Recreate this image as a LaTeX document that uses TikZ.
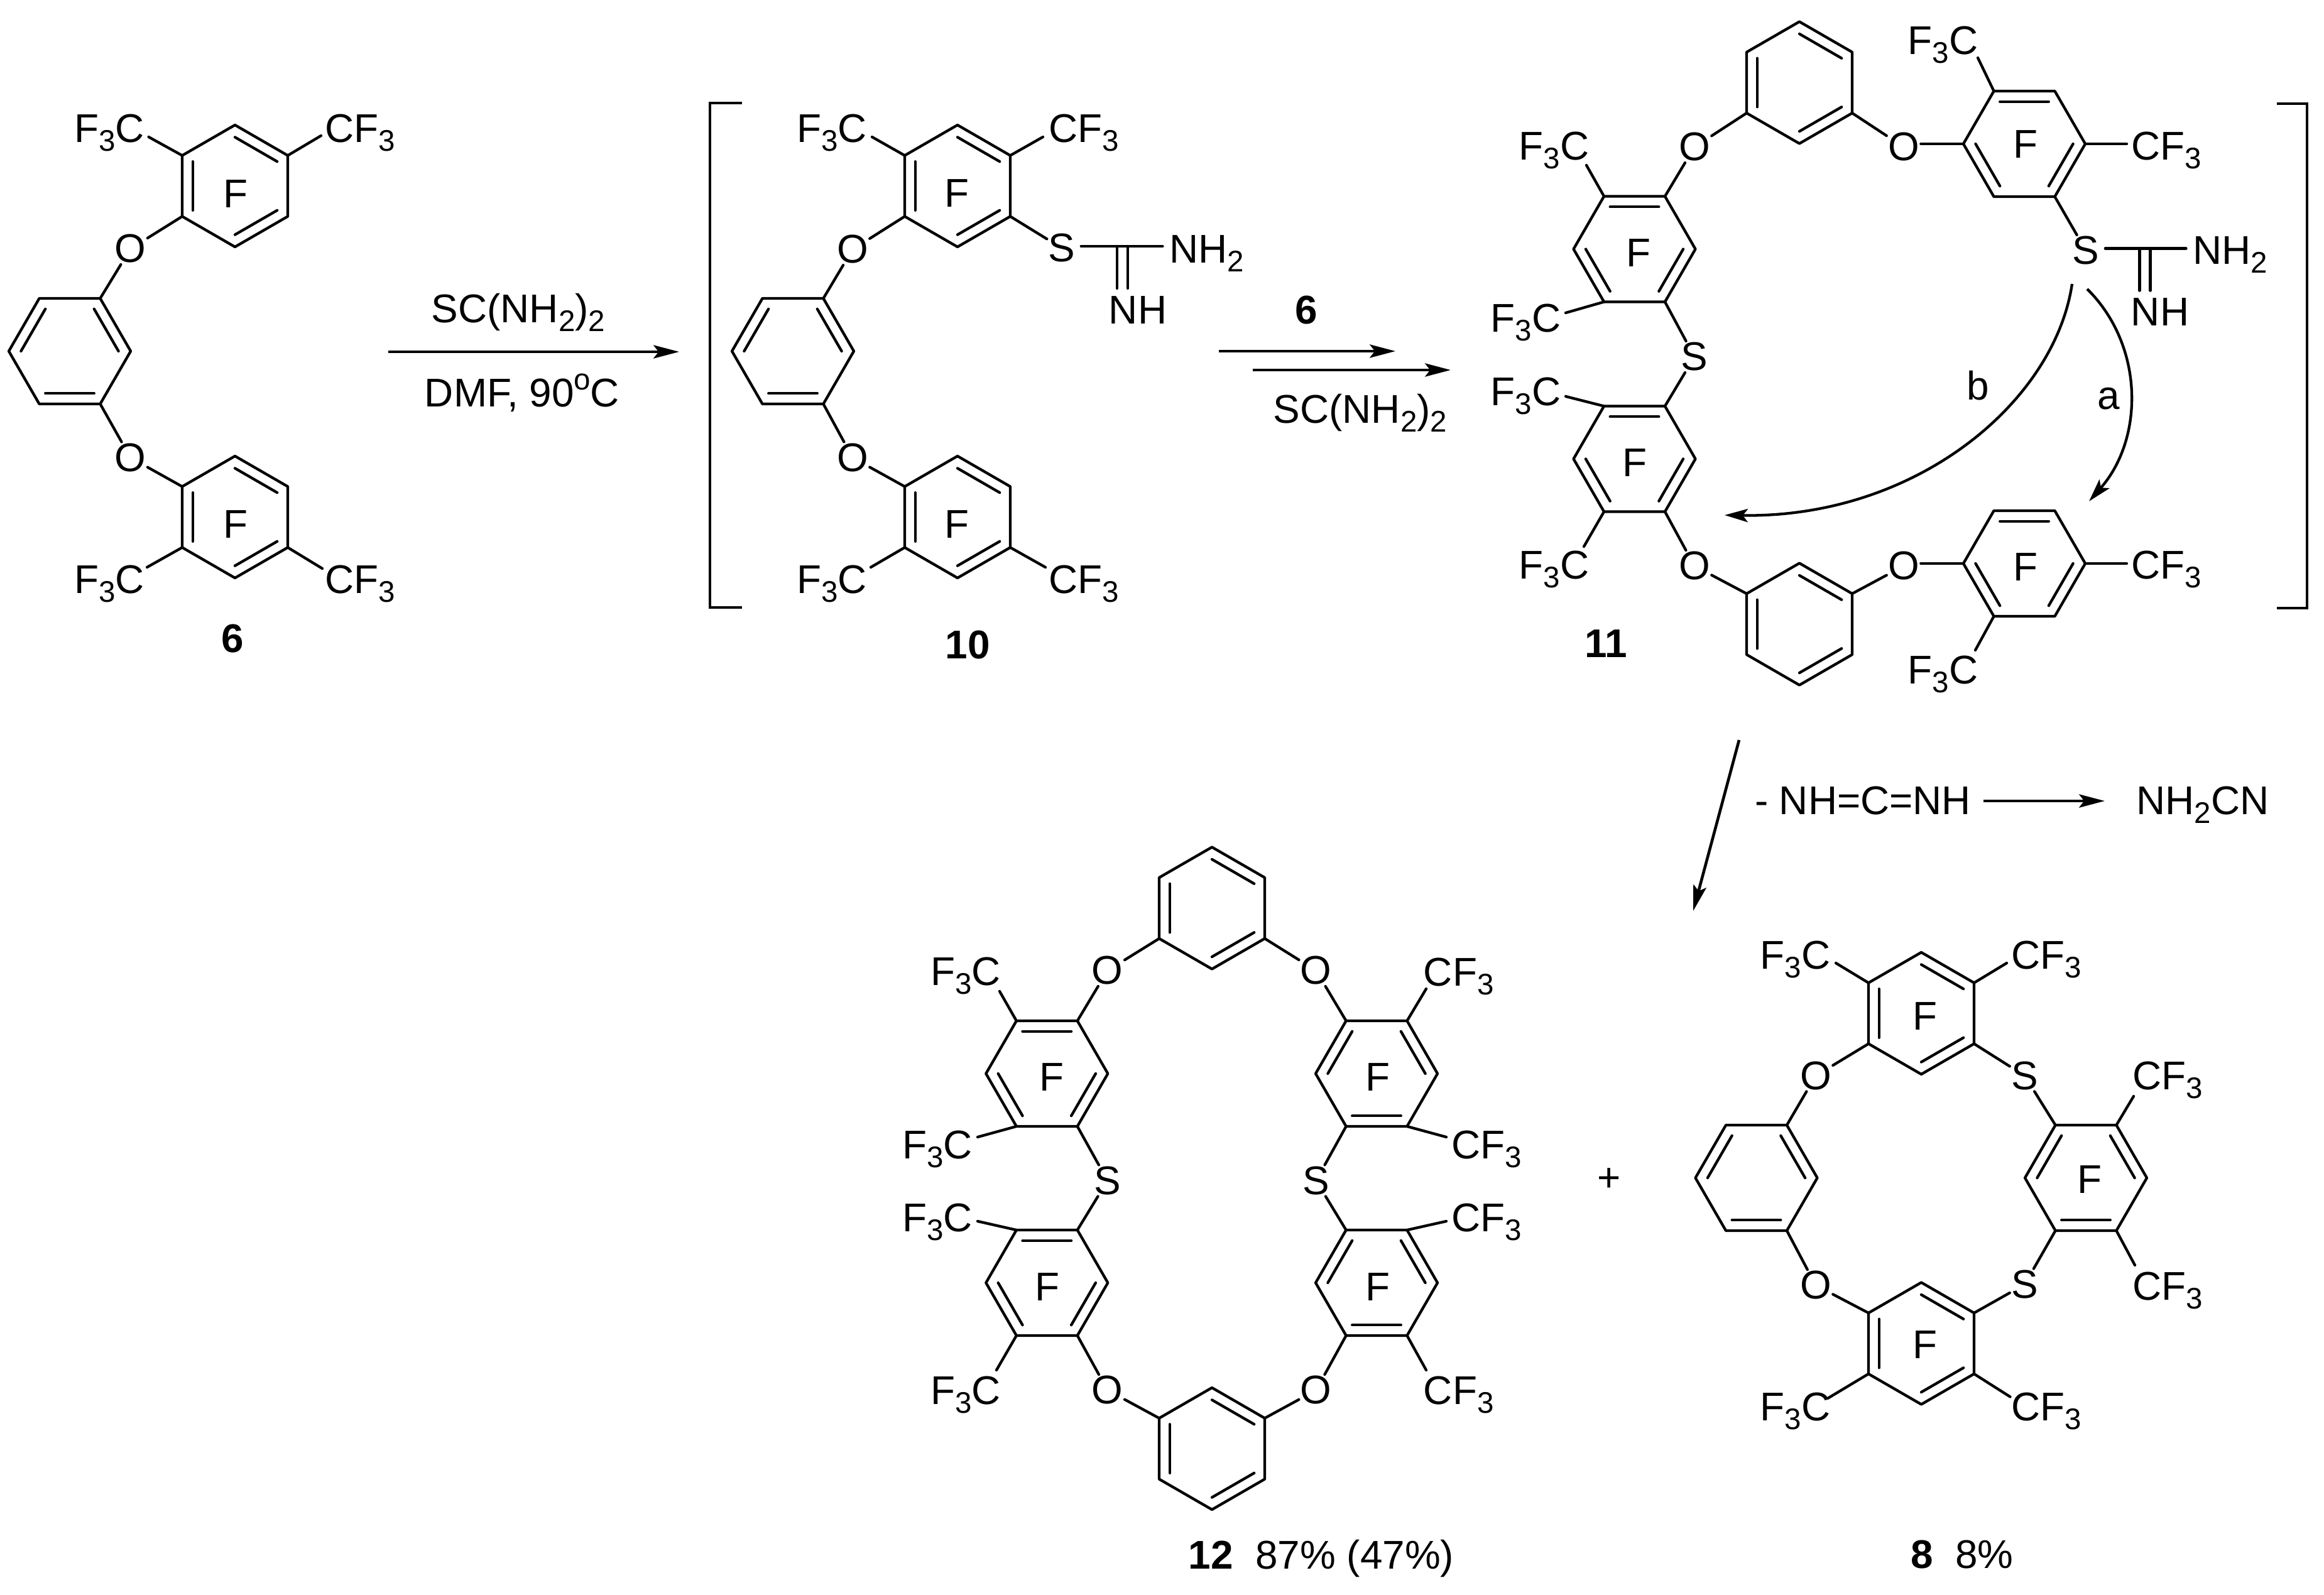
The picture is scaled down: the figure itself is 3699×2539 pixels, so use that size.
\documentclass[tikz,border=0pt]{standalone}
\usepackage{fontspec}
\setmainfont{Liberation Sans}
\usetikzlibrary{calc,arrows.meta}
\def\rR{97}
\newcommand{\sbs}[1]{\raisebox{-4pt}{\fontsize{13.5}{14}\selectfont #1}}
\newcommand{\sps}[1]{\raisebox{7.6pt}{\fontsize{13.5}{14}\selectfont #1}}
\newcommand{\ftc}{F\sbs{3}C}
\newcommand{\cft}{CF\sbs{3}}
\tikzset{
  bond/.style={draw=black, line width=1.22pt, line cap=round, line join=round},
  atom/.style={inner sep=0.5pt, font=\fontsize{18.15}{20}\selectfont},
  lab/.style={atom, anchor=base},
  num/.style={lab, font=\fontsize{18.15}{20}\selectfont\bfseries},
  rxn/.style={draw=black, line width=1.3pt, -{Stealth[length=11.6pt,width=6pt,inset=2.3pt]}},
  curv/.style={draw=black, line width=1.22pt, -{Stealth[length=10.5pt,width=6pt,inset=2.3pt]}}
}
% ring: name, centre, start angle, inner lines
\newcommand{\ringat}[4]{%
  \coordinate (#1) at (#2);
  \foreach \k in {0,...,5} \coordinate (#1-\k) at ($(#1)+(#3+60*\k:\rR)$);
  \draw[bond] (#1-0) -- (#1-1) -- (#1-2) -- (#1-3) -- (#1-4) -- (#1-5) -- cycle;
  \foreach \a/\b in {#4} \draw[bond] ($(#1)!0.8!(#1-\a)$) -- ($(#1)!0.8!(#1-\b)$);
}
% substituent: name, text at, text, ring vertex, bond end
\newcommand{\subgrp}[5]{%
  \node[lab] (#1) at (#2) {#3};
  \coordinate (#1e) at (#5);
  \draw[bond] (#4) -- (#1e);
}
% thiourea: prefix, S, C, NH2, NH, length of C=N
\newcommand{\thiou}[6]{%
  \node[atom] (#1s) at (#2) {S};
  \coordinate (#1c) at (#3);
  \node[lab] (#1a) at (#4) {NH\sbs{2}};
  \node[lab] (#1i) at (#5) {NH};
  \draw[bond, shorten <=2pt, shorten >=2.5pt] (#1s.east |- #1c) -- (#1a.west |- #1c);
  \draw[bond] ($(#1c)+(-8.5,0)$) -- ($(#1c)+(-8.5,-#6)$);
  \draw[bond] ($(#1c)+(8.5,0)$) -- ($(#1c)+(8.5,-#6)$);
}

\begin{document}
\begin{tikzpicture}[x=0.01cm,y=0.01cm]
  \useasboundingbox (0,0) rectangle (3699,-2539);

  % Compound 6
  \ringat{pa}{374,-296}{30}{2/3,0/1,4/5}
  \ringat{pb}{111,-559}{0}{2/3,0/1,4/5}
  \ringat{pc}{374,-823}{30}{2/3,0/1,4/5}
  \node[atom] (pfa) at (375,-309) {F};
  \node[atom] (pfb) at (375,-835) {F};
  \node[atom] (poa) at (207.6,-396) {O};
  \node[atom] (pob) at (207.6,-728.5) {O};
  \draw[bond] (pa-3) -- (poa) -- (pb-1);
  \draw[bond] (pb-5) -- (pob) -- (pc-2);
  \subgrp{pga}{174,-226}{\ftc}{pa-2}{236.6,-218}
  \subgrp{pgb}{573.5,-226}{\cft}{pa-0}{511,-216}
  \subgrp{pgc}{174,-944}{\ftc}{pc-3}{234,-903}
  \subgrp{pgd}{573.5,-944}{\cft}{pc-5}{513,-905}
  \node[num] (pnum) at (370.5,-1038) {6};

  % First step
  \coordinate (aas) at (618,-560);
  \coordinate (aae) at (1081,-560);
  \draw[rxn] (aas) -- (aae);
  \node[lab] (aat) at (825,-513) {SC(NH\sbs{2})\sbs{2}};
  \node[lab] (aab) at (831,-647) {DMF, 90\sps{o}C};

  % Brackets
  \draw[bond, line cap=butt, line join=miter] (1181,-164) -- (1130,-164) -- (1130,-967) -- (1181,-967);
  \draw[bond, line cap=butt, line join=miter] (3624,-165) -- (3672,-165) -- (3672,-968) -- (3624,-968);

  % Compound 10
  \ringat{qa}{1524,-296}{30}{2/3,0/1,4/5}
  \ringat{qb}{1262,-559}{0}{2/3,0/1,4/5}
  \ringat{qc}{1524,-823}{30}{2/3,0/1,4/5}
  \node[atom] (qfa) at (1523,-308) {F};
  \node[atom] (qfb) at (1523,-835) {F};
  \node[atom] (qoa) at (1357,-397) {O};
  \node[atom] (qob) at (1357,-728.5) {O};
  \draw[bond] (qa-3) -- (qoa) -- (qb-1);
  \draw[bond] (qb-5) -- (qob) -- (qc-2);
  \subgrp{qga}{1324,-226}{\ftc}{qa-2}{1388,-218}
  \subgrp{qgb}{1725,-226}{\cft}{qa-0}{1660,-218}
  \subgrp{qgc}{1324,-944}{\ftc}{qc-3}{1386,-903}
  \subgrp{qgd}{1725,-944}{\cft}{qc-5}{1664,-903}
  \thiou{qt}{1690,-395}{1786.6,-392}{1921,-418}{1811,-515}{67}
  \draw[bond] (qa-5) -- (qts);
  \node[num] (qnum) at (1540,-1048) {10};

  % Second step
  \coordinate (abs) at (1940,-559);
  \coordinate (abe) at (2221,-559);
  \coordinate (acs) at (1994,-589);
  \coordinate (ace) at (2309,-589);
  \draw[rxn] (abs) -- (abe);
  \draw[rxn] (acs) -- (ace);
  \node[num] (abt) at (2079,-515) {6};
  \node[lab] (acb) at (2165,-673) {SC(NH\sbs{2})\sbs{2}};

  % Compound 11
  \ringat{ra}{2864,-131.5}{30}{2/3,0/1,4/5}
  \ringat{rb}{3222,-229}{0}{1/2,3/4,5/0}
  \ringat{rc}{2601.5,-396.5}{0}{1/2,3/4,5/0}
  \ringat{rd}{2601.5,-730.5}{0}{1/2,3/4,5/0}
  \ringat{re}{2864,-993.5}{30}{2/3,0/1,4/5}
  \ringat{rf}{3222,-897}{0}{1/2,3/4,5/0}
  \node[atom] (rfa) at (3224,-230) {F};
  \node[atom] (rfb) at (2608,-403) {F};
  \node[atom] (rfc) at (2602,-737) {F};
  \node[atom] (rfd) at (3224,-903) {F};
  \node[atom] (roa) at (2697,-234) {O};
  \node[atom] (rob) at (3030,-234) {O};
  \node[atom] (roc) at (2697,-901) {O};
  \node[atom] (rod) at (3030,-901) {O};
  \node[atom] (rsa) at (2697,-568) {S};
  \draw[bond] (ra-3) -- (roa) -- (rc-1);
  \draw[bond] (ra-5) -- (rob);
  \draw[bond] (rb-3) -- (rob.east |- rb-3);
  \draw[bond] (rc-5) -- (rsa) -- (rd-1);
  \draw[bond] (rd-5) -- (roc) -- (re-2);
  \draw[bond] (re-0) -- (rod);
  \draw[bond] (rf-3) -- (rod.east |- rf-3);
  \subgrp{rga}{3092.5,-86}{\ftc}{rb-2}{3148,-92}
  \subgrp{rgb}{3448.5,-254}{\cft}{rb-0}{3385,-229}
  \subgrp{rgc}{2473.5,-254}{\ftc}{rc-2}{2525,-263}
  \subgrp{rgd}{2428.5,-528}{\ftc}{rc-4}{2492,-498}
  \subgrp{rge}{2428.5,-645.6}{\ftc}{rd-2}{2492,-631}
  \subgrp{rgf}{2473.5,-921}{\ftc}{rd-4}{2521,-870}
  \subgrp{rgg}{3448.5,-921}{\cft}{rf-0}{3385,-897}
  \subgrp{rgh}{3092.5,-1088}{\ftc}{rf-4}{3144,-1035}
  \thiou{rt}{3320,-399}{3414,-395.6}{3550,-420.6}{3438,-518}{67}
  \draw[bond] (rb-5) -- (rts);
  \node[num] (rnum) at (2556,-1046) {11};

  % Pathways a and b
  \coordinate (bs) at (3298,-452);
  \coordinate (be) at (2745,-820);
  \coordinate (cs) at (3322,-460);
  \coordinate (ce) at (3325,-798);
  \draw[curv] (bs) .. controls (3270,-640) and (3050,-825) .. (be);
  \draw[curv] (cs) .. controls (3413,-550) and (3413,-698) .. (ce);
  \node[lab] (bt) at (3148,-636) {b};
  \node[lab] (ct) at (3356,-651) {a};

  % Third step
  \coordinate (ads) at (2768,-1178);
  \coordinate (ade) at (2695,-1450);
  \coordinate (aes) at (3157,-1275);
  \coordinate (aee) at (3350,-1275);
  \draw[rxn] (ads) -- (ade);
  \draw[rxn] (aes) -- (aee);
  \node[lab] (aet) at (2965,-1296) {- NH=C=NH};
  \node[lab] (aeb) at (3506,-1296) {NH\sbs{2}CN};

  % Compound 12
  \ringat{sa}{1929,-1445.5}{30}{2/3,0/1,4/5}
  \ringat{sb}{1929,-2306}{30}{2/3,0/1,4/5}
  \ringat{sc}{1666.3,-1709}{0}{1/2,3/4,5/0}
  \ringat{sd}{1666.3,-2042}{0}{1/2,3/4,5/0}
  \ringat{se}{2191,-1709}{0}{2/3,0/1,4/5}
  \ringat{sf}{2191,-2042}{0}{2/3,0/1,4/5}
  \node[atom] (sfa) at (1673.7,-1715) {F};
  \node[atom] (sfb) at (1666.7,-2049) {F};
  \node[atom] (sfc) at (2193,-1715) {F};
  \node[atom] (sfd) at (2193,-2049) {F};
  \node[atom] (soa) at (1762.8,-1545) {O};
  \node[atom] (sob) at (2094.7,-1545) {O};
  \node[atom] (soc) at (1762.8,-2213) {O};
  \node[atom] (sod) at (2094.7,-2213) {O};
  \node[atom] (ssa) at (1762.8,-1879.4) {S};
  \node[atom] (ssb) at (2094.7,-1879.4) {S};
  \draw[bond] (sc-1) -- (soa) -- (sa-3);
  \draw[bond] (se-2) -- (sob) -- (sa-5);
  \draw[bond] (sd-5) -- (soc) -- (sb-2);
  \draw[bond] (sf-4) -- (sod) -- (sb-0);
  \draw[bond] (sc-5) -- (ssa) -- (sd-1);
  \draw[bond] (se-4) -- (ssb) -- (sf-2);
  \subgrp{sga}{1536.8,-1568.8}{\ftc}{sc-2}{1591,-1578}
  \subgrp{sgb}{1492.3,-1844}{\ftc}{sc-4}{1556,-1810}
  \subgrp{sgc}{1492.3,-1960}{\ftc}{sd-2}{1556,-1944}
  \subgrp{sgd}{1536.8,-2235}{\ftc}{sd-4}{1586,-2181}
  \subgrp{sge}{2321.7,-1569}{\cft}{se-1}{2270,-1574}
  \subgrp{sgf}{2366,-1844}{\cft}{se-5}{2302,-1810}
  \subgrp{sgg}{2366,-1960}{\cft}{sf-1}{2302,-1944}
  \subgrp{sgh}{2321.7,-2235}{\cft}{sf-5}{2270,-2181}
  \node[lab] (snum) at (2103,-2497.6) {\textbf{12}\ \ 87\% (47\%)};

  \node[atom] (plus) at (2561,-1878) {+};

  % Compound 8
  \ringat{ta}{3058,-1613}{30}{2/3,0/1,4/5}
  \ringat{tb}{2795.5,-1875}{0}{2/3,0/1,4/5}
  \ringat{tc}{3058,-2138.5}{30}{2/3,0/1,4/5}
  \ringat{td}{3320,-1875}{0}{2/3,0/1,4/5}
  \node[atom] (tfa) at (3064,-1618) {F};
  \node[atom] (tfb) at (3064,-2141) {F};
  \node[atom] (tfc) at (3325.7,-1878) {F};
  \node[atom] (toa) at (2890,-1712.4) {O};
  \node[atom] (tob) at (2890,-2046) {O};
  \node[atom] (tsa) at (3222.5,-1712.4) {S};
  \node[atom] (tsb) at (3222.5,-2044.6) {S};
  \draw[bond] (ta-3) -- (toa) -- (tb-1);
  \draw[bond] (tb-5) -- (tob) -- (tc-2);
  \draw[bond] (ta-5) -- (tsa) -- (td-2);
  \draw[bond] (td-4) -- (tsb) -- (tc-0);
  \subgrp{tga}{2857.5,-1542}{\ftc}{ta-2}{2922,-1533}
  \subgrp{tgb}{3257,-1542}{\cft}{ta-0}{3194,-1533}
  \subgrp{tgc}{3450,-1734.6}{\cft}{td-1}{3396,-1745}
  \subgrp{tgd}{3450,-2069}{\cft}{td-5}{3398,-2014}
  \subgrp{tge}{2857.5,-2261.6}{\ftc}{tc-3}{2909,-2226}
  \subgrp{tgf}{3257,-2261.6}{\cft}{tc-5}{3199.5,-2223.5}
  \node[lab] (tnum) at (3123,-2496) {\textbf{8}\ \ 8\%};
\end{tikzpicture}
\end{document}
